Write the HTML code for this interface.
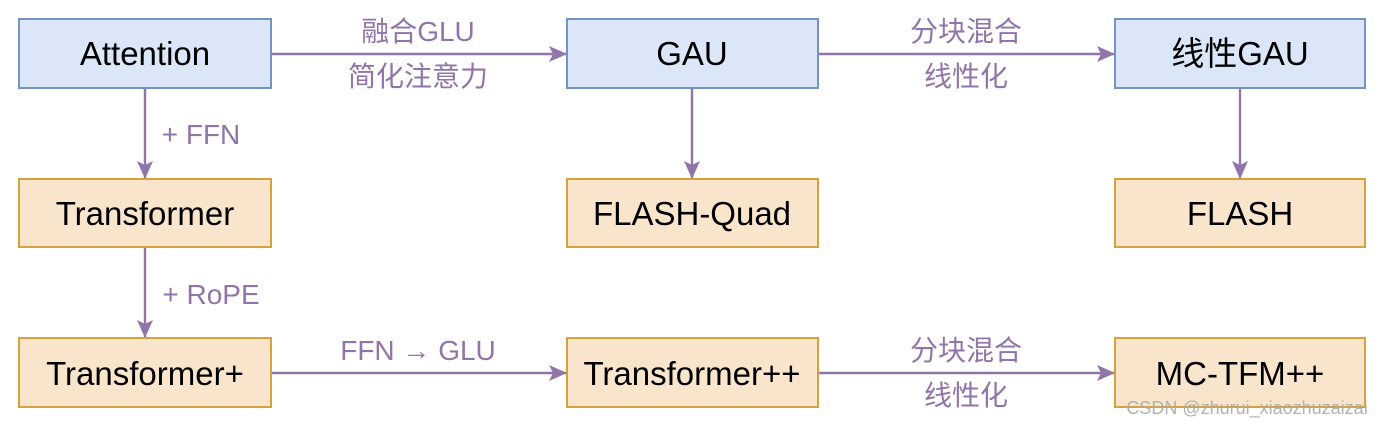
<!DOCTYPE html>
<html><head><meta charset="utf-8"><style>
body{margin:0;background:#fff;}
svg text{font-family:"Liberation Sans","Noto Sans CJK SC",sans-serif;}
</style></head><body>
<svg width="1384" height="426" viewBox="0 0 1384 426" xmlns="http://www.w3.org/2000/svg">
<defs><marker id="a" markerWidth="18" markerHeight="16" refX="17" refY="8" orient="auto" markerUnits="userSpaceOnUse">
<path d="M0,0 L18,8 L0,16 L4,8 Z" fill="#9275a8"/></marker></defs>
<g stroke="#9275a8" stroke-width="2.4" fill="none" marker-end="url(#a)">
<line x1="271" y1="54" x2="566" y2="54"/>
<line x1="818" y1="54" x2="1114" y2="54"/>
<line x1="271" y1="373" x2="566" y2="373"/>
<line x1="818" y1="373" x2="1114" y2="373"/>
<line x1="145" y1="88" x2="145" y2="178"/>
<line x1="145" y1="247" x2="145" y2="337"/>
<line x1="692" y1="88" x2="692" y2="178"/>
<line x1="1240" y1="88" x2="1240" y2="178"/>
</g>
<g stroke-width="2">
<rect x="19" y="19" width="252" height="69" fill="#dbe7f9" stroke="#7592c2"/>
<rect x="567" y="19" width="251" height="69" fill="#dbe7f9" stroke="#7592c2"/>
<rect x="1115" y="19" width="250" height="69" fill="#dbe7f9" stroke="#7592c2"/>
<rect x="19" y="179" width="252" height="68" fill="#f9e4cc" stroke="#d6a23f"/>
<rect x="567" y="179" width="251" height="68" fill="#f9e4cc" stroke="#d6a23f"/>
<rect x="1115" y="179" width="250" height="68" fill="#f9e4cc" stroke="#d6a23f"/>
<rect x="19" y="338" width="252" height="69" fill="#f9e4cc" stroke="#d6a23f"/>
<rect x="567" y="338" width="251" height="69" fill="#f9e4cc" stroke="#d6a23f"/>
<rect x="1115" y="338" width="250" height="69" fill="#f9e4cc" stroke="#d6a23f"/>
</g>
<g font-size="33" fill="#000" text-anchor="middle">
<text x="145" y="65">Attention</text>
<text x="692" y="65">GAU</text>
<text x="1240" y="65">线性GAU</text>
<text x="145" y="225">Transformer</text>
<text x="692" y="225">FLASH-Quad</text>
<text x="1240" y="225">FLASH</text>
<text x="145" y="385">Transformer+</text>
<text x="692" y="385">Transformer++</text>
<text x="1240" y="385">MC-TFM++</text>
</g>
<g font-size="28" fill="#9275a8" text-anchor="middle">
<text x="418" y="41">融合GLU</text>
<text x="418" y="86">简化注意力</text>
<text x="966" y="41">分块混合</text>
<text x="966" y="86">线性化</text>
<text x="418" y="360">FFN → GLU</text>
<text x="966" y="360">分块混合</text>
<text x="966" y="405">线性化</text>
<text x="201" y="144">+ FFN</text>
<text x="211" y="304">+ RoPE</text>
</g>
<text x="1247" y="414" font-size="18" fill="#aaa" fill-opacity="0.9" text-anchor="middle">CSDN @zhurui_xiaozhuzaizai</text>
</svg>
</body></html>
